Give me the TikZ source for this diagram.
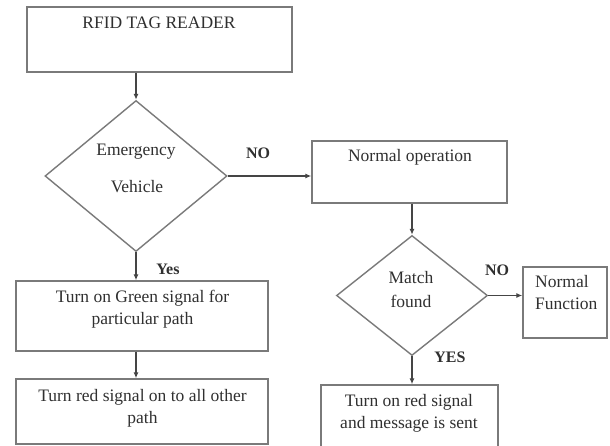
\documentclass[tikz,border=0pt]{standalone}
\usepackage{fontspec}
\setmainfont{Liberation Serif}
\usetikzlibrary{shapes.geometric,arrows.meta}
\definecolor{boxline}{HTML}{7A7A7A}
\definecolor{arrowline}{HTML}{454545}
\definecolor{txtcol}{HTML}{303030}
\begin{document}
\begin{tikzpicture}[x=1pt,y=-1pt,
 box/.style={draw=boxline, line width=1.4pt, rectangle, inner sep=0pt},
 dia/.style={draw=boxline, line width=1.4pt, diamond, inner sep=0pt},
 txt/.style={text=txtcol, font=\fontsize{17.5}{21.5}\selectfont, align=center, inner sep=0pt},
 lbl/.style={text=txtcol, font=\fontsize{16}{19}\selectfont\bfseries, inner sep=0pt},
 arr/.style={draw=arrowline, line width=1.3pt, -{Latex[length=6pt,width=5pt]}}]
\useasboundingbox (0,0) rectangle (610,446);
\fill[white] (0,0) rectangle (610,446);
\clip (0,0) rectangle (610,446);

% left column
\node[box, minimum width=265pt, minimum height=65pt] (rfid) at (159.5,39.5) {};
\node[txt] (rfidtxt) at (159,23) {RFID TAG READER};

\node[dia, minimum width=182pt, minimum height=151pt] (emerg) at (136,176) {};
\node[txt] (emergtxt1) at (136,152) {Emergency};
\node[txt] (emergtxt2) at (137,187) {Vehicle};

\node[box, minimum width=252pt, minimum height=70pt] (green) at (142,316) {};
\node[txt] (greentxt) at (142.5,309) {Turn on Green signal for\\particular path};

\node[box, minimum width=252pt, minimum height=65pt] (red) at (142,411.5) {};
\node[txt] (redtxt) at (142.5,408.5) {Turn red signal on to all other\\path};

% right column
\node[box, minimum width=195pt, minimum height=62pt] (normop) at (409.5,172) {};
\node[txt] (normoptxt) at (410,157) {Normal operation};

\node[dia, minimum width=151pt, minimum height=120pt] (match) at (412,295.5) {};
\node[txt] (matchtxt1) at (411,278) {Match};
\node[txt] (matchtxt2) at (411,301) {found};

\node[box, minimum width=84pt, minimum height=71pt] (normfunc) at (565,302.5) {};
\node[txt, align=left, anchor=west] (normfunctxt) at (535,292.5) {Normal\\Function};

\node[box, minimum width=177pt, minimum height=64pt] (sent) at (409.5,417) {};
\node[txt] (senttxt) at (409,413.5) {Turn on red signal\\and message is sent};

% labels
\node[lbl] (nolbl1) at (258,153) {NO};
\node[lbl] (yeslbl1) at (168,269) {Yes};
\node[lbl] (nolbl2) at (497,270) {NO};
\node[lbl] (yeslbl2) at (450,357) {YES};

% connectors
\draw[arr] (emerg.north |- rfid.south) -- (emerg.north);
\draw[arr] (emerg.east) -- (emerg.east -| normop.west);
\draw[arr] (emerg.south) -- (emerg.south |- green.north);
\draw[arr] (emerg.south |- green.south) -- (emerg.south |- red.north);
\draw[arr] (match.north |- normop.south) -- (match.north);
\draw[arr] (match.east) -- (match.east -| normfunc.west);
\draw[arr] (match.south) -- (match.south |- sent.north);
\end{tikzpicture}
\end{document}
